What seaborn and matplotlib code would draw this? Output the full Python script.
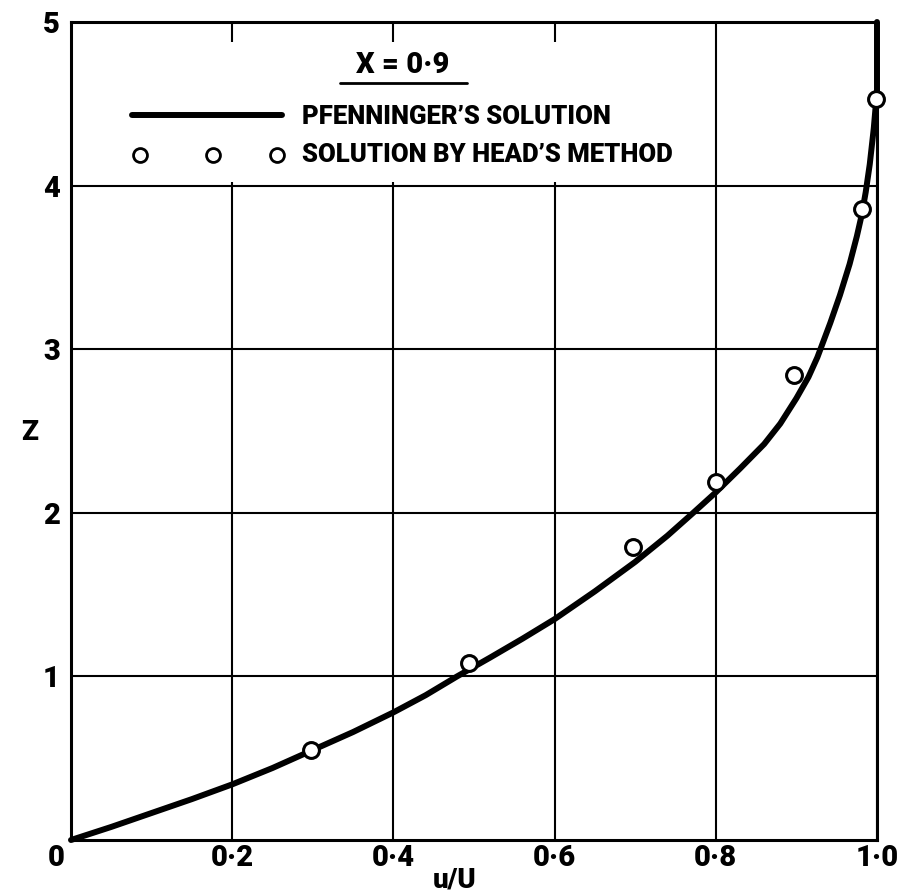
import matplotlib
matplotlib.use('Agg')
import matplotlib.pyplot as plt
from matplotlib.patches import Rectangle
import pandas as pd
import seaborn as sns

# Pfenninger's solution; runs up the u=1 edge at the top
curve_u = [0.0, 0.05, 0.1, 0.15, 0.2, 0.25, 0.3, 0.35, 0.4, 0.44, 0.479, 0.52,
           0.56, 0.6, 0.65, 0.7, 0.74, 0.772, 0.8, 0.83, 0.86, 0.88, 0.90, 0.915,
           0.926, 0.942, 0.954, 0.966, 0.975, 0.981, 0.986, 0.991, 0.996, 1.0, 1.0]
curve_z = [0.0, 0.08, 0.165, 0.25, 0.34, 0.44, 0.55, 0.66, 0.78, 0.885, 1.0, 1.115,
           1.23, 1.35, 1.52, 1.70, 1.86, 2.0, 2.125, 2.27, 2.42, 2.545, 2.70, 2.83,
           2.95, 3.16, 3.33, 3.52, 3.69, 3.82, 3.96, 4.13, 4.35, 4.58, 5.0]

# Head's method points
head_u = [0.298, 0.494, 0.697, 0.80, 0.897, 0.981, 0.999]
head_z = [0.55, 1.08, 1.79, 2.19, 2.84, 3.86, 4.53]

x_ticks = [0.2, 0.4, 0.6, 0.8, 1.0]
x_labels = ['0·2', '0·4', '0·6', '0·8', '1·0']
y_ticks = [1, 2, 3, 4, 5]
y_labels = ['1', '2', '3', '4', '5']

FONT = ['Roboto', 'DejaVu Sans']
WEIGHT = 'heavy'


def main():
    sns.set_style('white')
    plt.rcParams['font.family'] = FONT
    plt.rcParams['font.weight'] = WEIGHT
    plt.rcParams['text.color'] = 'black'
    plt.rcParams['xtick.color'] = 'black'
    plt.rcParams['ytick.color'] = 'black'

    fig = plt.figure(figsize=(9.01, 8.94), dpi=100)
    ax = fig.add_axes([71 / 901, 54 / 894, 806 / 901, 818 / 894])

    curve_df = pd.DataFrame({'u': curve_u, 'z': curve_z})
    head_df = pd.DataFrame({'u': head_u, 'z': head_z})

    ax.set_xlim(0, 1.0)
    ax.set_ylim(0, 5)
    ax.set_xticks(x_ticks)
    ax.set_xticklabels(x_labels)
    ax.set_yticks(y_ticks)
    ax.set_yticklabels(y_labels)
    ax.grid(True, color='black', linewidth=1.5)
    ax.set_axisbelow(True)
    for s in ax.spines.values():
        s.set_color('black')
        s.set_linewidth(2.2)
    ax.tick_params(length=0, labelsize=21, pad=3)
    ax.tick_params(axis='y', pad=8)

    # legend box masks the grid lines except small stubs at the top
    ax.add_patch(Rectangle((0.004, 4.02), 0.79, 0.86, facecolor='white',
                           edgecolor='none', zorder=1.5))

    sns.lineplot(data=curve_df, x='u', y='z', color='black', linewidth=4.3,
                 sort=False, estimator=None, ax=ax, zorder=3, clip_on=False)
    sns.scatterplot(data=head_df, x='u', y='z', s=130, facecolor='white',
                    edgecolor='black', linewidth=2.2, ax=ax, zorder=4, clip_on=False)

    ax.set_xlabel('')
    ax.set_ylabel('')
    fig.text(455 / 901, 1 - 880 / 894, 'u/U', ha='center', va='center', fontsize=20,
             fontweight=WEIGHT)
    fig.text(30 / 901, 1 - 432 / 894, 'Z', ha='center', va='center', fontsize=20,
             fontweight=WEIGHT)
    fig.text(56 / 901, 1 - 858 / 894, '0', ha='center', va='center', fontsize=21,
             fontweight=WEIGHT)

    # legend contents
    ax.text(0.412, 4.74, 'X = 0·9', ha='center', va='center', fontsize=21,
            fontweight=WEIGHT, zorder=5)
    ax.plot([0.334, 0.491], [4.625, 4.625], color='black', linewidth=2, zorder=5)
    ax.plot([0.076, 0.262], [4.43, 4.43], color='black', linewidth=4.3, zorder=5)
    ax.text(0.287, 4.42, 'PFENNINGER\u2019S SOLUTION', ha='left', va='center',
            fontsize=18.5, fontweight=WEIGHT, zorder=5)
    ax.scatter([0.086, 0.176, 0.256], [4.19, 4.19, 4.19], s=100, facecolor='white',
               edgecolor='black', linewidth=2, zorder=5)
    ax.text(0.287, 4.19, 'SOLUTION BY HEAD\u2019S METHOD', ha='left', va='center',
            fontsize=18.5, fontweight=WEIGHT, zorder=5)

    fig.savefig('out.png', dpi=100)


if __name__ == '__main__':
    main()
